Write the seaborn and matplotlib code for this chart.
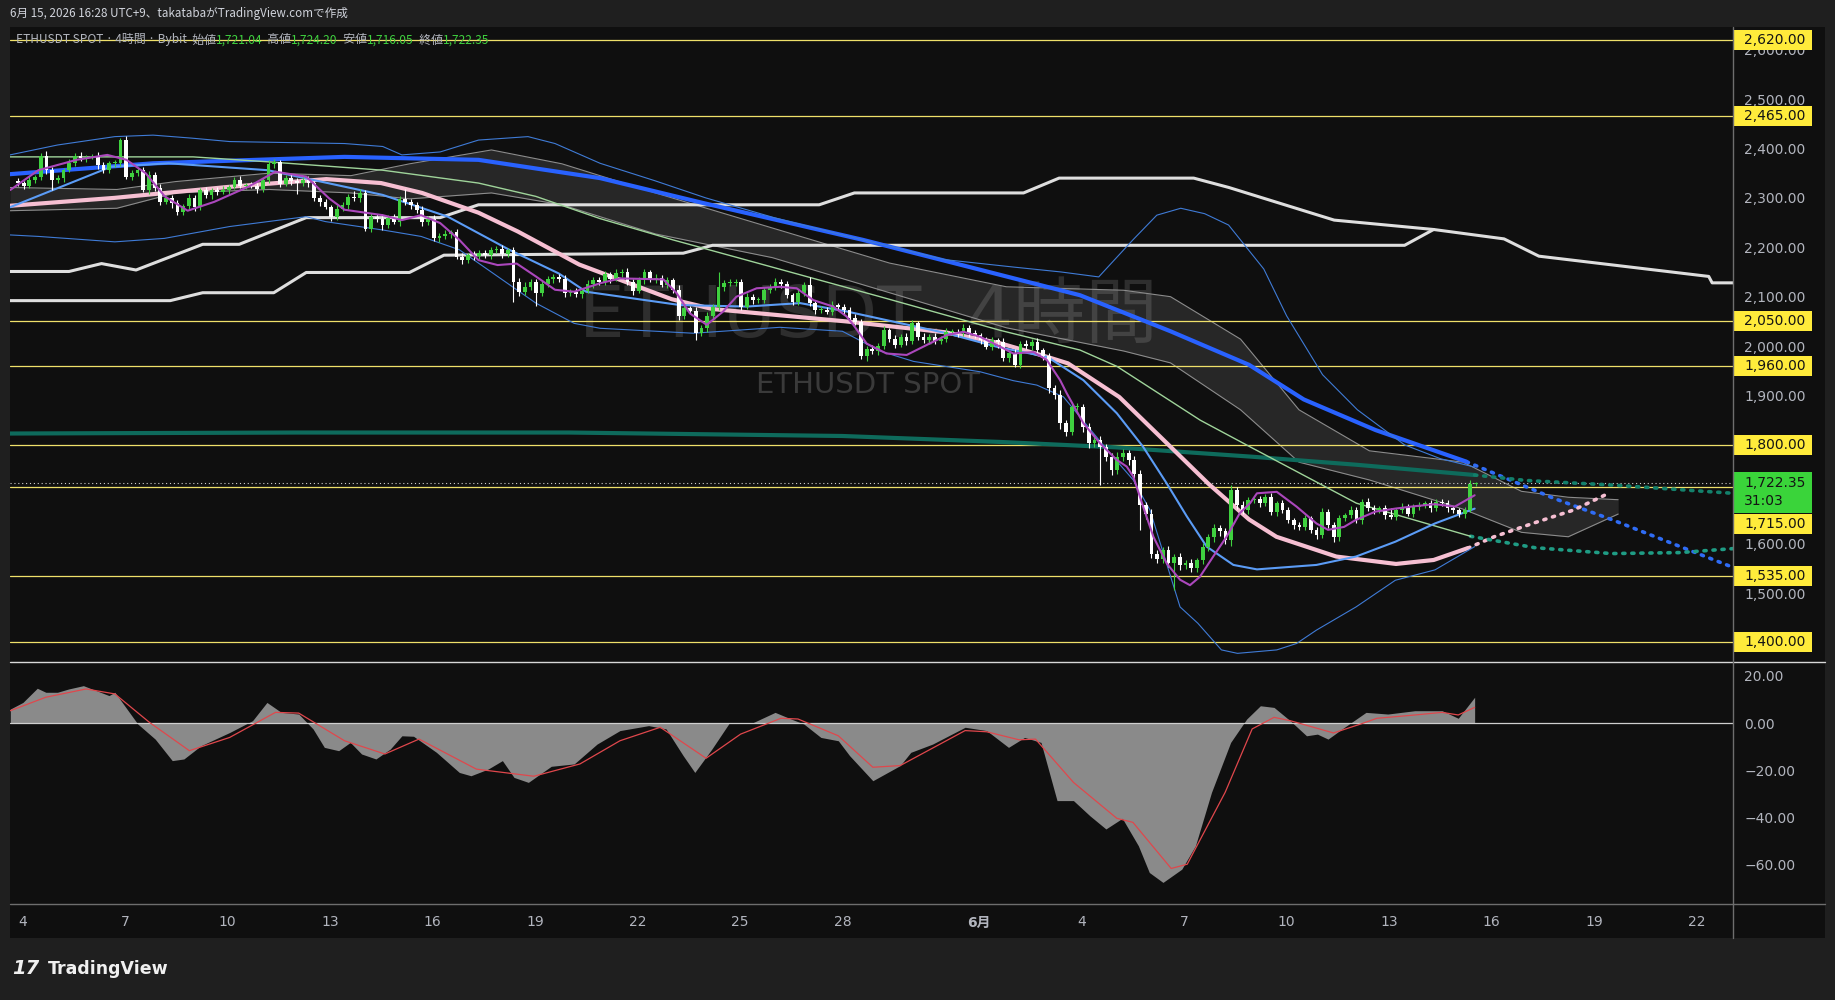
import numpy as np
import pandas as pd
import seaborn as sns
import matplotlib.pyplot as plt
import matplotlib.transforms as mtransforms
from matplotlib.patches import Rectangle
from matplotlib.lines import Line2D

# ---------------- data ----------------
# 4h candles, closes (USDT); open = previous close
first_open = 2335
close = [
    2330, 2325, 2336, 2343, 2385, 2356, 2336, 2340, 2356, 2370,
    2385, 2380, 2383, 2383, 2366, 2356, 2370, 2370, 2417, 2343,
    2350, 2356, 2316, 2346, 2320, 2292, 2299, 2289, 2272, 2283,
    2299, 2281, 2316, 2305, 2316, 2312, 2316, 2322, 2336, 2325,
    2326, 2324, 2318, 2336, 2368, 2372, 2329, 2340, 2335, 2330,
    2337, 2330, 2299, 2292, 2282, 2262, 2278, 2285, 2302, 2300,
    2310, 2237, 2262, 2258, 2245, 2260, 2252, 2298, 2292, 2285,
    2275, 2252, 2258, 2218, 2222, 2226, 2230, 2181, 2175, 2184,
    2182, 2189, 2184, 2194, 2196, 2186, 2194, 2130, 2110, 2120,
    2130, 2107, 2125, 2135, 2140, 2135, 2107, 2110, 2105, 2112,
    2125, 2134, 2130,
    2145, 2136, 2147, 2150, 2130, 2112, 2133, 2150, 2135, 2137,
    2124, 2133, 2114, 2060, 2077, 2072, 2026, 2036, 2060, 2080,
    2120, 2127, 2128, 2130, 2080, 2100, 2093, 2093, 2114, 2120,
    2130, 2125, 2103, 2090, 2107, 2124, 2087, 2073, 2074, 2070,
    2083, 2080, 2073, 2057, 2049, 1979, 1995, 1990, 2000, 2032,
    2015, 2003, 2019, 2010, 2046, 2019, 2012, 2019, 2010, 2015,
    2029, 2029, 2026, 2036, 2026, 2022, 2012, 1999, 2012, 2008,
    1975, 1985, 1962, 2005, 2000, 2008, 1992, 1979,
    1915, 1901, 1844, 1827, 1877, 1877, 1837, 1803, 1810, 1796,
    1776, 1749, 1776, 1783, 1770, 1742, 1678, 1661, 1580, 1570,
    1587, 1560, 1574, 1557, 1560, 1550, 1567, 1594, 1614, 1631,
    1625, 1608, 1709, 1679, 1668,
    1688, 1690, 1682, 1695, 1665, 1682, 1668, 1648, 1638, 1634,
    1652, 1628, 1618, 1665, 1638, 1614, 1652, 1658, 1668, 1648,
    1685, 1672, 1668, 1672, 1658, 1655, 1668, 1675, 1661, 1675,
    1678, 1682, 1672, 1685, 1682, 1672, 1668, 1660, 1668, 1721.04,
    1722.35,
]
wick_up = [
    6, 5, 8, 4, 5, 9, 7, 6, 5, 8, 6, 7, 4, 5, 9, 6, 5, 7, 5, 8,
    6, 5, 7, 9, 6, 8, 5, 6, 7, 5, 8, 6, 5, 7, 4, 6, 8, 5, 6, 9,
    5, 7, 6, 5, 8, 6, 4, 7, 9, 5, 6, 8, 5, 7, 6, 4, 8, 6, 5, 12,
    7, 5, 8, 6, 9, 5, 7, 6, 20, 5, 6, 8, 5, 7, 6, 9, 5, 6, 7, 5,
    8, 6, 5, 7, 6, 8, 5, 6, 7, 9, 5, 6, 8, 7, 5, 6, 9, 5, 7, 6,
    8, 5, 6, 7, 5, 9, 6, 8, 5, 7, 6, 5, 8, 6, 7, 5, 9, 6, 5, 7,
    6, 8, 5, 30, 6, 7, 5, 6, 8, 5, 7, 6, 5, 8, 6, 7, 5, 9, 6, 16,
    5, 7, 6, 8, 5, 6, 7, 8, 6, 5, 7, 6, 9, 5, 7, 6, 8, 6, 5, 7,
    6, 8, 5, 7, 6, 5, 8, 6, 7, 5, 6, 7, 5, 8, 6, 9, 5, 7, 6, 8,
    5, 8, 6, 10, 7, 9, 8, 6, 7, 9, 8, 6, 7, 9, 8, 6, 8, 7, 6, 9,
    7, 6, 8, 5, 7, 6, 8, 5, 7, 6, 8, 6, 7, 10, 6, 8, 6, 5, 7, 6,
    8, 5, 6, 7, 5, 6, 7, 5, 6, 8, 5, 6, 7, 5, 8, 6, 5, 7, 6, 5,
    6, 15, 5, 7, 6, 5, 6, 5, 7, 6, 5, 6, 5, 4, 6, 8, 1.85,
]
wick_dn = [
    5, 7, 4, 6, 6, 8, 20, 5, 7, 4, 6, 5, 8, 5, 7, 6, 5, 8, 6, 5,
    7, 6, 5, 8, 6, 7, 5, 9, 6, 7, 5, 8, 6, 5, 7, 6, 4, 8, 5, 6,
    7, 5, 8, 6, 5, 7, 6, 5, 8, 23, 5, 7, 6, 8, 5, 9, 6, 5, 7, 6,
    8, 5, 6, 7, 10, 6, 5, 8, 6, 7, 5, 8, 6, 5, 7, 6, 8, 5, 9, 6,
    7, 5, 6, 8, 5, 7, 6, 40, 8, 6, 7, 25, 6, 5, 8, 6, 7, 5, 6, 8,
    5, 7, 6, 6, 8, 5, 7, 6, 9, 5, 7, 6, 8, 5, 6, 7, 8, 6, 5, 14,
    6, 7, 5, 6, 8, 5, 7, 6, 5, 8, 6, 5, 7, 6, 8, 5, 6, 7, 5, 6,
    8, 6, 5, 7, 6, 8, 5, 7, 6, 9, 6, 8, 5, 7, 6, 5, 8, 6, 7, 5,
    8, 6, 5, 7, 6, 8, 5, 7, 6, 8, 5, 7, 12, 6, 8, 5, 7, 6, 8, 5,
    7, 10, 8, 12, 9, 8, 7, 10, 9, 8, 77, 8, 9, 7, 8, 10, 9, 50, 12, 8,
    10, 9, 8, 54, 10, 9, 8, 7, 9, 8, 10, 9, 8, 12, 9, 8, 7, 6, 8, 6,
    7, 8, 6, 7, 8, 6, 7, 6, 8, 6, 7, 10, 8, 6, 7, 6, 8, 6, 7, 6,
    8, 6, 7, 6, 5, 7, 6, 5, 7, 6, 5, 7, 6, 5, 7, 4, 4.99,
]

# indicator knots: x = day counted from 1 May (32 = 1 June), y = price
ma_long_x = [3.64, 7.83, 13.43, 17.35, 20.91, 23.9, 28.6, 34.95, 37.6, 39.9, 41.5, 43.6, 46.26]
ma_long_y = [2348, 2370, 2383, 2377, 2340, 2290, 2215, 2103, 2030, 1962, 1892, 1830, 1766]
ma_long_fx = [46.26, 48.81, 50.54, 54.06]
ma_long_fy = [1766, 1692, 1648, 1552]

ma_mid_x = [3.64, 6.7, 10.0, 12.9, 14.5, 15.7, 17.35, 18.5, 20.3, 23.0, 24.2, 28.1, 31.0,
            32.6, 34.0, 34.6, 36.1, 37.5, 38.7, 39.9, 40.7, 42.45, 44.2, 45.3, 46.3]
ma_mid_y = [2284, 2300, 2322, 2338, 2330, 2310, 2270, 2232, 2165, 2095, 2075, 2050, 2028,
            2006, 1978, 1965, 1897, 1803, 1722, 1649, 1614, 1574, 1559, 1567, 1591]
ma_mid_fx = [46.3, 47.07, 48.24, 49.39, 50.3]
ma_mid_fy = [1591, 1614, 1642, 1668, 1698]

ma_xl_x = [3.64, 12, 20, 28, 32.6, 36, 40, 43, 46.5]
ma_xl_y = [1823, 1825, 1825, 1818, 1806, 1795, 1776, 1760, 1739]
ma_xl_fx = [46.5, 48, 50.7, 54.06]
ma_xl_fy = [1739, 1728, 1718, 1702]

ma_green_x = [3.64, 9.0, 11.19, 14.55, 17.35, 19.03, 20.91, 23.04, 29.1, 32.61, 34.95, 36.03,
              38.47, 39.93, 43.04, 46.38]
ma_green_y = [2383, 2383, 2373, 2356, 2330, 2303, 2258, 2215, 2100, 2032, 1992, 1959,
              1850, 1796, 1682, 1615]
ma_green_fx = [46.38, 48.25, 50.5, 52.5, 54.06]
ma_green_fy = [1615, 1592, 1580, 1582, 1590]

bb_mid_x = [3.64, 6.6, 8.28, 11.19, 14.55, 16.45, 18.25, 19.7, 20.5, 23.25, 25.2, 26.76, 28.13,
            31.05, 32.55, 34.0, 35.05, 36.03, 36.8, 37.49, 38.08, 38.66, 39.44, 40.13, 41.87,
            43.03, 44.18, 45.34, 46.5]
bb_mid_y = [2281, 2363, 2370, 2356, 2306, 2262, 2195, 2147, 2110, 2083, 2080, 2087, 2070,
            2026, 1998, 1978, 1931, 1864, 1796, 1722, 1655, 1594, 1557, 1548, 1557,
            1574, 1604, 1641, 1671]
bb_up_x = [3.64, 5.03, 6.71, 7.83, 8.95, 10.07, 13.43, 14.55, 15.11, 16.23, 17.35, 18.8, 19.59,
           20.91, 22.5, 24.0, 26.0, 28.0, 31.0, 33.0, 34.4, 35.5, 36.5, 37.2, 37.9, 38.6, 39.3,
           40.33, 41.0, 42.05, 43.07, 44.45, 45.5, 46.5]
bb_up_y = [2387, 2407, 2424, 2427, 2421, 2414, 2410, 2404, 2387, 2393, 2417, 2424, 2410,
           2370, 2335, 2300, 2260, 2225, 2175, 2160, 2150, 2140, 2215, 2265, 2279, 2268, 2245,
           2156, 2061, 1942, 1871, 1800, 1772, 1755]
bb_lo_x = [3.64, 4.47, 6.71, 8.16, 10.07, 12.31, 12.87, 14.55, 15.67, 16.79, 17.91, 19.03, 20.15,
           20.91, 23.64, 26.17, 28.0, 29.1, 30.08, 32.03, 33.0, 33.69, 34.47, 35.83, 36.51, 37.0,
           37.88, 38.4, 39.09, 39.56, 40.71, 41.29, 41.87, 43.03, 44.18, 45.34, 46.5]
bb_lo_y = [2225, 2222, 2211, 2218, 2242, 2262, 2252, 2235, 2222, 2195, 2141, 2087, 2046,
           2036, 2026, 2038, 2030, 1990, 1969, 1948, 1930, 1921, 1897, 1783, 1729, 1668,
           1472, 1439, 1385, 1378, 1385, 1398, 1425, 1472, 1526, 1547, 1594]

fast_x = [3.65, 4.47, 5.59, 6.49, 7.05, 7.61, 8.17, 8.84, 9.62, 10.63, 11.41, 12.31, 12.98,
          13.43, 14.55, 15.11, 15.67, 16.23, 16.79, 17.35, 17.91, 18.47, 19.03, 19.59, 20.15,
          20.9, 21.49, 22.76, 23.15, 23.54, 24.03, 24.51, 24.9, 25.49, 26.17, 26.66, 27.15,
          27.73, 28.12, 28.32, 28.71, 29.29, 29.88, 30.46, 31.05, 31.54, 32.02, 32.61, 33.0,
          33.59, 33.98, 34.37, 34.56, 35.05, 35.54, 36.02, 36.32, 36.51, 36.8, 37.1, 37.49,
          37.88, 38.17, 38.46, 38.85, 39.24, 39.63, 39.93, 40.13, 40.71, 41.29, 41.87, 42.21,
          42.68, 43.02, 43.6, 44.18, 44.76, 45.34, 45.92, 46.5]
fast_y = [2316, 2356, 2377, 2387, 2377, 2350, 2303, 2274, 2292, 2323, 2353, 2343, 2299,
          2276, 2265, 2255, 2265, 2249, 2215, 2174, 2164, 2167, 2141, 2114, 2110,
          2127, 2137, 2135, 2107, 2066, 2043, 2070, 2100, 2117, 2120, 2117, 2093,
          2080, 2060, 2043, 2005, 1985, 1982, 2002, 2022, 2029, 2019, 1999, 1985,
          1988, 1972, 1931, 1905, 1844, 1803, 1770, 1756, 1736, 1675, 1614, 1560,
          1527, 1516, 1533, 1574, 1614, 1662, 1682, 1702, 1705, 1675, 1641, 1628,
          1634, 1648, 1665, 1671, 1676, 1680, 1675, 1698]

# white step lines
step_a_x = [3.64, 5.37, 6.32, 7.33, 9.28, 10.35, 12.31, 16.23, 17.35, 27.32, 28.35, 33.3, 34.34,
            38.28, 39.31, 42.39, 45.3, 47.36, 48.38, 53.35, 53.45, 54.06]
step_a_y = [2151, 2151, 2167, 2154, 2206, 2206, 2260, 2260, 2286, 2286, 2310, 2310, 2340,
            2340, 2321, 2255, 2236, 2217, 2182, 2141, 2128, 2128]
step_b_x = [3.64, 8.33, 9.28, 11.36, 12.31, 15.33, 16.34, 23.34, 24.2, 44.45, 45.3]
step_b_y = [2092, 2092, 2108, 2108, 2149, 2149, 2184, 2188, 2204, 2204, 2236]

# cloud
cloud_x = [3.64, 6.77, 8.49, 11.23, 13.62, 15.34, 17.73, 19.79, 22.53, 25.95, 29.38, 32.8,
           36.23, 37.6, 39.65, 41.36, 43.42, 46.16, 47.87, 49.24, 50.7]
cloud_a = [2321, 2317, 2333, 2350, 2345, 2369, 2397, 2369, 2310, 2239, 2168, 2120,
           2113, 2100, 2014, 1871, 1788, 1765, 1706, 1694, 1689]
cloud_b = [2274, 2279, 2310, 2317, 2310, 2298, 2310, 2286, 2227, 2179, 2108, 2037,
           1990, 1966, 1871, 1765, 1729, 1670, 1623, 1614, 1660]

levels = [2620, 2465, 2050, 1960, 1800, 1715, 1535, 1400]
last_price = 1722.35
price_ticks = [1400, 1500, 1600, 1700, 1800, 1900, 2000, 2100, 2200, 2300, 2400, 2500, 2600]
hidden_ticks = [1400, 1700, 1800]   # covered by the level tags in the original

# oscillator
osc_x = [3.65, 4.02, 4.44, 4.69, 5.03, 5.36, 5.79, 6.29, 6.54, 6.71, 7.38, 7.89, 8.39, 8.73,
         9.23, 10.07, 10.74, 11.16, 11.58, 12.09, 12.51, 12.84, 13.26, 13.6, 13.93, 14.35,
         14.77, 15.11, 15.45, 16.12, 16.79, 17.13, 17.63, 18.05, 18.39, 18.81, 19.48, 20.15,
         20.82, 21.49, 22.33, 22.84, 23.34, 23.68, 24.18, 24.69, 25.36, 26.03, 26.53, 26.87,
         27.37, 27.88, 28.21, 28.89, 29.69, 30.0, 30.64, 31.59, 32.22, 32.86, 33.33, 33.81,
         34.28, 34.76, 35.24, 35.71, 36.19, 36.66, 36.98, 37.38, 37.93, 38.33, 38.8, 39.36,
         39.83, 40.23, 40.63, 41.1, 41.58, 41.9, 42.21, 42.69, 43.32, 43.96, 44.75, 45.55,
         46.02, 46.5]
osc_v = [5.9, 8.7, 14.7, 13.0, 13.0, 14.4, 15.8, 13.0, 11.6, 13.0, -0.4, -6.8, -15.9, -15.2,
         -9.6, -4.0, 1.0, 8.7, 4.5, 3.8, -2.5, -10.3, -11.7, -8.2, -13.1, -15.2,
         -11.0, -5.4, -5.6, -12.4, -20.9, -22.3, -19.5, -15.9, -23.0, -25.1, -18.3, -17.3,
         -8.9, -3.2, -1.1, -2.5, -13.8, -20.9, -11.0, 0.0, 0.0, 4.5, 1.5, -0.4,
         -6.1, -7.5, -13.8, -24.4, -18.0, -12.4, -8.9, -1.8, -3.2, -10.3, -6.1, -8.2,
         -32.8, -32.8, -39.2, -44.8, -40.3, -51.9, -63.2, -67.4, -61.8, -51.9, -29.3, -8.2,
         1.7, 7.3, 6.6, 1.0, -5.4, -4.7, -6.8, -1.8, 4.5, 3.8, 5.2, 5.2,
         2.0, 10.9]
sig_x = [3.65, 4.69, 5.87, 6.71, 7.72, 8.89, 10.07, 11.41, 12.09, 13.43, 14.61, 15.61, 17.29,
         18.97, 20.32, 21.49, 22.67, 24.01, 25.02, 26.2, 26.7, 27.88, 28.89, 29.69, 31.59,
         32.22, 33.17, 33.65, 34.76, 36.03, 36.5, 37.62, 38.09, 39.2, 39.99, 40.63, 41.1,
         42.37, 43.17, 43.64, 44.75, 45.55, 46.02, 46.5]
sig_v = [5.2, 10.9, 14.4, 12.3, 0.3, -11.7, -6.1, 4.5, 4.2, -7.5, -13.1, -6.8, -19.5,
         -22.5, -17.3, -7.5, -1.8, -14.9, -4.7, 2.0, 1.7, -5.4, -18.7, -18.0, -3.2,
         -3.7, -7.1, -6.8, -25.1, -40.3, -42.0, -61.5, -59.7, -29.3, -2.5, 2.4, 1.0,
         -4.2, -0.4, 2.0, 3.4, 4.5, 3.4, 6.6]
osc_ticks = [20, 0, -20, -40, -60]

tick_days = [4, 7, 10, 13, 16, 19, 22, 25, 28, 32, 35, 38, 41, 44, 47, 50, 53]
tick_labels = ['4', '7', '10', '13', '16', '19', '22', '25', '28', '6月',
               '4', '7', '10', '13', '16', '19', '22']

# ---------------- styling ----------------
sns.set_theme(style='dark')
plt.rcParams['font.family'] = ['DejaVu Sans', 'Noto Sans CJK JP']

BG = '#0f0f0f'
AXIS_TXT = '#b2b5be'
W, H = 1835, 1000
fig = plt.figure(figsize=(W / 100, H / 100), dpi=100, facecolor='#1f1f1f')


def fx(px):
    return px / W


def fy(py):
    return 1 - py / H


fig.patches.append(Rectangle((fx(10), fy(938)), (1825 - 10) / W, (938 - 27) / H,
                             transform=fig.transFigure, fc=BG, ec='none', zorder=-5))

ax = fig.add_axes([fx(10), fy(662), (1733 - 10) / W, (662 - 27) / H])
axo = fig.add_axes([fx(10), fy(903), (1733 - 10) / W, (903 - 662) / H])
for a in (ax, axo):
    a.set_facecolor('none')
    for s in a.spines.values():
        s.set_visible(False)
    a.grid(False)

XMIN, XMAX = 3.642, 54.06
YMIN, YMAX = 1360.5, 2645.9
ax.set_xlim(XMIN, XMAX)
ax.set_ylim(YMIN, YMAX)
axo.set_xlim(XMIN, XMAX)
axo.set_ylim(-76.1, 25.8)

# watermark
ax.text(0.498, 0.542, 'ETHUSDT, 4時間', transform=ax.transAxes, ha='center', va='center',
        fontsize=52, color='#2e2e2e', zorder=0.2)
ax.text(0.498, 0.436, 'ETHUSDT SPOT', transform=ax.transAxes, ha='center', va='center',
        fontsize=21, color='#3a3a3a', zorder=0.2)

# cloud
ax.fill_between(cloud_x, cloud_a, cloud_b, color='#ffffff', alpha=0.10, lw=0, zorder=0.5)
ax.plot(cloud_x, cloud_a, color='#8c8c8c', lw=0.8, zorder=0.6)
ax.plot(cloud_x, cloud_b, color='#8c8c8c', lw=0.8, zorder=0.6)

# horizontal levels
for lv in levels:
    ax.axhline(lv, color='#efe06a', lw=0.9, zorder=1)
ax.axhline(last_price, color='#d0d0d0', lw=0.8, ls=(0, (1, 2.5)), zorder=1)

# white step lines
ax.plot(step_a_x, step_a_y, color='#dedede', lw=2.2, zorder=1.5)
ax.plot(step_b_x, step_b_y, color='#dedede', lw=2.2, zorder=1.5)


def line(xs, ys, color, lw, z):
    sns.lineplot(x=xs, y=ys, ax=ax, color=color, linewidth=lw, estimator=None, sort=False,
                 legend=False, zorder=z)


def dotted(xs, ys, color, lw=2.6):
    ax.plot(xs, ys, color=color, lw=lw, ls=(0, (0.6, 1.9)), dash_capstyle='round', zorder=2)


line(ma_xl_x, ma_xl_y, '#0e6b5c', 3.0, 2)
line(ma_long_x, ma_long_y, '#2962ff', 3.0, 2.1)
line(ma_mid_x, ma_mid_y, '#f6bfd2', 3.0, 2.2)
line(ma_green_x, ma_green_y, '#9fd49a', 1.0, 2.3)
line(bb_up_x, bb_up_y, '#3f7bd6', 0.8, 2.3)
line(bb_lo_x, bb_lo_y, '#3f7bd6', 0.8, 2.3)
line(bb_mid_x, bb_mid_y, '#5b9cf6', 1.5, 2.4)
dotted(ma_long_fx, ma_long_fy, '#2f6cf5')
dotted(ma_mid_fx, ma_mid_fy, '#f6bfd2')
dotted(ma_xl_fx, ma_xl_fy, '#13806b')
dotted(ma_green_fx, ma_green_fy, '#1f9c84')

# candles
c = np.array(close, dtype=float)
o = np.r_[first_open, c[:-1]]
hi = np.maximum(o, c) + np.array(wick_up)
lo = np.minimum(o, c) - np.array(wick_dn)
t = pd.date_range(end='2026-06-15 13:00', periods=len(c), freq='4h')
x = np.asarray((t - pd.Timestamp('2026-04-30')).total_seconds() / 86400.0)
col = np.where(c >= o, '#3fd13f', '#ffffff')
ax.vlines(x, lo, hi, colors=col, lw=0.8, zorder=3)
ax.bar(x, np.maximum(np.abs(c - o), 2.0), bottom=np.minimum(o, c), width=0.11,
       color=col, linewidth=0, zorder=3.1)

line(fast_x, fast_y, '#ab47bc', 1.5, 3.5)

# price scale
ax.yaxis.tick_right()
ax.set_yticks(price_ticks)
ax.set_yticklabels(['' if v in hidden_ticks else f'{v:,.2f}' for v in price_ticks])
ax.tick_params(axis='y', length=0, pad=8, labelcolor=AXIS_TXT, labelsize=10)
ax.tick_params(axis='x', length=0, labelbottom=False)
ax.set_xlabel('')
ax.set_ylabel('')

ppp = (YMAX - YMIN) / 635.0
bt = mtransforms.blended_transform_factory(ax.transAxes, ax.transData)
box_w = 79 / 1723
shift_px = {1715: 37}
for lv in levels:
    yc = lv - shift_px.get(lv, 0) * ppp
    ax.add_patch(Rectangle((1.0, yc - 10 * ppp), box_w, 20 * ppp, transform=bt,
                           clip_on=False, fc='#ffeb3b', ec='none', zorder=10))
    ax.text(1.0 + 11 / 1723, yc, f'{lv:,.2f}', transform=bt, ha='left', va='center',
            fontsize=10, color='#141414', zorder=11, clip_on=False)
ax.add_patch(Rectangle((1.0, last_price - 30 * ppp), box_w, 41 * ppp, transform=bt,
                       clip_on=False, fc='#3ad43a', ec='none', zorder=10))
ax.text(1.0 + 11 / 1723, last_price + 0.5 * ppp, f'{last_price:,.2f}', transform=bt,
        ha='left', va='center', fontsize=10, color='#141414', zorder=11)
ax.text(1.0 + 11 / 1723, last_price - 18 * ppp, '31:03', transform=bt,
        ha='left', va='center', fontsize=10, color='#141414', zorder=11)

# oscillator
axo.fill_between(osc_x, osc_v, 0, color='#8a8a8a', lw=0, zorder=1)
sns.lineplot(x=sig_x, y=sig_v, ax=axo, color='#e0474c', linewidth=0.9, estimator=None,
             sort=False, legend=False, zorder=2)
axo.axhline(0, color='#cfcfcf', lw=0.9, zorder=1.5)
axo.yaxis.tick_right()
axo.set_yticks(osc_ticks)
axo.set_yticklabels([f'{v:.2f}'.replace('-', '−') for v in osc_ticks])
axo.tick_params(axis='y', length=0, pad=8, labelcolor=AXIS_TXT, labelsize=10)
axo.set_xticks(tick_days)
axo.set_xticklabels(tick_labels)
axo.tick_params(axis='x', length=0, pad=9, labelcolor=AXIS_TXT, labelsize=10)
for lab in axo.get_xticklabels():
    if lab.get_text() == '6月':
        lab.set_fontweight('bold')
axo.set_xlabel('')
axo.set_ylabel('')

# separators
fig.add_artist(Line2D([fx(10), fx(1825)], [fy(662), fy(662)], transform=fig.transFigure,
                      color='#d8d8d8', lw=1.0))
fig.add_artist(Line2D([fx(10), fx(1825)], [fy(903.5), fy(903.5)], transform=fig.transFigure,
                      color='#6e6e6e', lw=1.0))
fig.add_artist(Line2D([fx(1733), fx(1733)], [fy(27), fy(938)], transform=fig.transFigure,
                      color='#6e6e6e', lw=1.0))

# header and legend
fig.text(fx(10), fy(14), '6月 15, 2026 16:28 UTC+9、takatabaがTradingView.comで作成',
         fontsize=8.4, color='#d1d4dc', va='center', ha='left',
         family=['Noto Sans CJK JP', 'DejaVu Sans'])
renderer = fig.canvas.get_renderer()
pieces = [('ETHUSDT SPOT · 4時間 · Bybit', AXIS_TXT), ('  始値', AXIS_TXT), ('1,721.04', '#3fd13f'),
          ('  高値', AXIS_TXT), ('1,724.20', '#3fd13f'), ('  安値', AXIS_TXT),
          ('1,716.05', '#3fd13f'), ('  終値', AXIS_TXT), ('1,722.35', '#3fd13f')]
xpos = 16
for txt, colr in pieces:
    tt = fig.text(fx(xpos), fy(40), txt, fontsize=8.6, color=colr, va='center', ha='left',
                  family=['Noto Sans CJK JP', 'DejaVu Sans'])
    xpos += tt.get_window_extent(renderer=renderer).width

# footer logo
fig.text(fx(12), fy(969), '17', fontsize=14, fontweight='heavy', color='#f0f0f0',
         va='center', ha='left', style='italic')
fig.text(fx(48), fy(969), 'TradingView', fontsize=12.5, fontweight='bold', color='#f0f0f0',
         va='center', ha='left')

fig.savefig('out.png', dpi=100, facecolor=fig.get_facecolor())
